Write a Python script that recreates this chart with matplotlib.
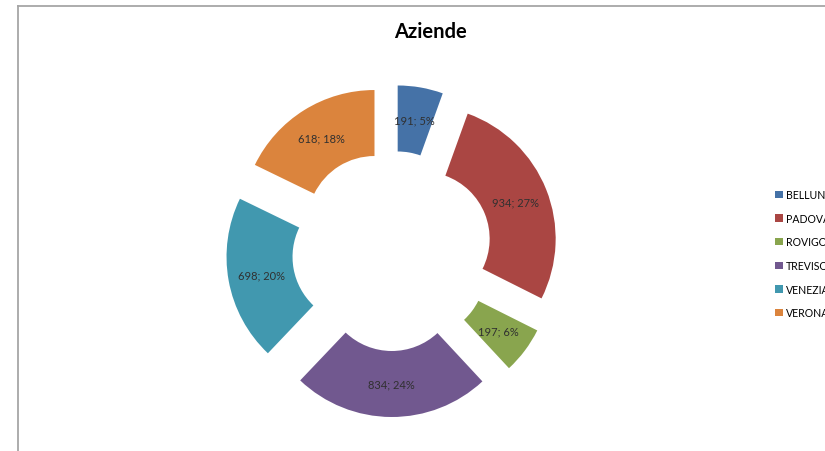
import matplotlib
matplotlib.use('Agg')
import matplotlib.pyplot as plt
from matplotlib.lines import Line2D

# data
province = ['BELLUNO', 'PADOVA', 'ROVIGO', 'TREVISO', 'VENEZIA', 'VERONA']
aziende = [191, 934, 197, 834, 698, 618]
pct_shown = [5, 27, 6, 24, 20, 18]
colors = ['#4572A7', '#AA4643', '#89A54E', '#71588F', '#4198AF', '#DB843D']

plt.rcParams['font.family'] = ['Lato', 'DejaVu Sans']

W, H = 825, 452
fig = plt.figure(figsize=(W / 100, H / 100), dpi=100)
ax = fig.add_axes([0, 0, 1, 1])

# pie geometry in pixel units
cx, cy = 392, H - 252
radius = 133
ring = 66
gap = 33

labels_txt = iter(f'{v}; {p}%' for v, p in zip(aziende, pct_shown))
wedges, _, autotexts = ax.pie(
    aziende, colors=colors, startangle=90, counterclock=False,
    center=(cx, cy), radius=radius, explode=[gap] * len(aziende),
    wedgeprops=dict(width=ring, linewidth=0),
    autopct=lambda p: next(labels_txt), pctdistance=(radius - ring / 2) / radius,
    frame=True)
ax.set_xlim(0, W)
ax.set_ylim(0, H)
ax.set_aspect('equal')
ax.axis('off')
for t in autotexts:
    t.set_fontsize(8)
    t.set_color('#303030')

ax.text(430, H - 32, 'Aziende', ha='center', va='center',
        fontsize=14.5, fontweight='bold', color='#000000')

ax.legend(wedges, province, loc='upper left', bbox_to_anchor=(775, H - 190),
          bbox_transform=ax.transData, frameon=False, fontsize=7.6,
          handlelength=0.72, handleheight=0.72, handletextpad=0.3,
          labelspacing=1.2, borderpad=0, borderaxespad=0)

# chart frame (cropped at right and bottom)
fig.add_artist(Line2D([18 / W, 18 / W], [0, 1 - 7 / H], color='#A6A6A6', lw=1.3,
                      transform=fig.transFigure))
fig.add_artist(Line2D([18 / W, 1], [1 - 7 / H, 1 - 7 / H], color='#A6A6A6', lw=1.3,
                      transform=fig.transFigure))

fig.savefig('out.png', dpi=100)
